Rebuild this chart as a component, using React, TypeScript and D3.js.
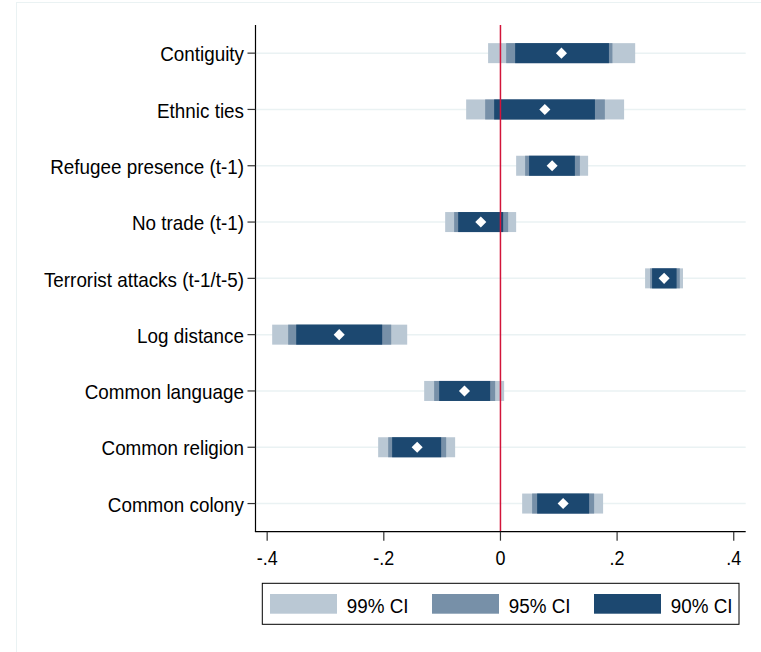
import React from "react";
import * as d3 from "d3";

const categories = [
  "Contiguity",
  "Ethnic ties",
  "Refugee presence (t-1)",
  "No trade (t-1)",
  "Terrorist attacks (t-1/t-5)",
  "Log distance",
  "Common language",
  "Common religion",
  "Common colony",
];
const estimates = [0.1046, 0.0761, 0.0886, -0.0337, 0.2806, -0.2765, -0.0617, -0.1428, 0.1075];
const ci99Low = [-0.0212, -0.0588, 0.0269, -0.0948, 0.248, -0.3914, -0.1308, -0.2097, 0.0372];
const ci99High = [0.231, 0.212, 0.1503, 0.0269, 0.313, -0.1599, 0.0063, -0.0777, 0.176];
const ci95Low = [0.0098, -0.0262, 0.0423, -0.0794, 0.2566, -0.364, -0.1137, -0.1925, 0.0543];
const ci95High = [0.192, 0.179, 0.1362, 0.0132, 0.3075, -0.1873, -0.0091, -0.0931, 0.1606];
const ci90Low = [0.0252, -0.0108, 0.0491, -0.0725, 0.26, -0.3502, -0.1051, -0.1857, 0.0629];
const ci90High = [0.186, 0.162, 0.1276, 0.0046, 0.302, -0.2028, -0.0177, -0.1017, 0.152];
const xTicks = [-0.4, -0.2, 0, 0.2, 0.4];
const xTickLabels = ["-.4", "-.2", "0", ".2", ".4"];
const legendLabels = ["99% CI", "95% CI", "90% CI"];

const COLORS = ["#BAC8D4", "#7790A8", "#1C4870"];
const FONT = "'Liberation Sans', Arial, sans-serif";
const SX = 0.92;

export default function App() {
  const W = 761;
  const H = 652;
  const left = 255.5;
  const right = 745.7;
  const top = 25;
  const bottom = 531.7;

  const x = d3.scaleLinear().domain([-0.42, 0.4205]).range([left, right]);
  const y = d3.scalePoint<string>().domain(categories).range([top, bottom]).padding(0.5);
  const barH = 20;

  const layers = [
    { lo: ci99Low, hi: ci99High, color: COLORS[0] },
    { lo: ci95Low, hi: ci95High, color: COLORS[1] },
    { lo: ci90Low, hi: ci90High, color: COLORS[2] },
  ];

  const diamond = d3.symbol().type(d3.symbolDiamond2).size(78)();

  const legendX = 262.3;
  const legendY = 583.3;
  const legendW = 476.7;
  const legendH = 41;
  const legendSlot = d3.scaleLinear().domain([0, 1]).range([270, 432]);

  return (
    <svg
      width={W}
      height={H}
      style={{ position: "absolute", left: 0, top: 0, background: "#fff" }}
      fontFamily={FONT}
    >
      <rect x={0} y={0} width={W} height={H} fill="#fff" />
      <rect x={16.5} y={2.5} width={W + 10} height={H + 10} fill="none" stroke="#EAF2F3" strokeWidth={1} />

      {/* gridlines */}
      {categories.map((c) => (
        <line key={"g" + c} x1={left} x2={right} y1={y(c)} y2={y(c)} stroke="#EAF2F3" strokeWidth={1.5} />
      ))}

      {/* bars */}
      {layers.map((L, li) =>
        categories.map((c, i) => (
          <rect
            key={`b${li}-${i}`}
            x={x(L.lo[i])}
            width={x(L.hi[i]) - x(L.lo[i])}
            y={(y(c) as number) - barH / 2}
            height={barH}
            fill={L.color}
          />
        ))
      )}

      {/* zero line */}
      <line x1={x(0)} x2={x(0)} y1={top} y2={bottom} stroke="#D2143A" strokeWidth={1.5} />

      {/* point estimates */}
      {categories.map((c, i) => (
        <path key={"p" + c} d={diamond as string} transform={`translate(${x(estimates[i])},${y(c)})`} fill="#fff" />
      ))}

      {/* y axis */}
      <line x1={left} x2={left} y1={top} y2={bottom} stroke="#000" strokeWidth={1.2} />
      {categories.map((c) => (
        <g key={"yt" + c}>
          <line x1={left - 8} x2={left} y1={y(c)} y2={y(c)} stroke="#333" strokeWidth={1.2} />
          <text
            transform={`translate(${left - 11.5},${(y(c) as number) + 8.2}) scale(${SX},1)`}
            textAnchor="end"
            fontSize={20.5}
            fill="#000"
          >
            {c}
          </text>
        </g>
      ))}

      {/* x axis */}
      <line x1={left - 0.6} x2={right} y1={bottom} y2={bottom} stroke="#000" strokeWidth={1.2} />
      {xTicks.map((t, i) => (
        <g key={"xt" + t}>
          <line x1={x(t)} x2={x(t)} y1={bottom} y2={bottom + 9} stroke="#333" strokeWidth={1.2} />
          <text
            transform={`translate(${x(t)},565) scale(${SX},1)`}
            textAnchor="middle"
            fontSize={19.5}
            fill="#000"
          >
            {xTickLabels[i]}
          </text>
        </g>
      ))}

      {/* legend */}
      <rect x={legendX} y={legendY} width={legendW} height={legendH} fill="#fff" stroke="#000" strokeWidth={1} />
      {legendLabels.map((lab, i) => (
        <g key={"lg" + lab}>
          <rect x={legendSlot(i)} y={594} width={67} height={19.7} fill={COLORS[i]} />
          <text
            transform={`translate(${legendSlot(i) + 76.7},612.5) scale(${SX},1)`}
            fontSize={20.5}
            fill="#000"
          >
            {lab}
          </text>
        </g>
      ))}
    </svg>
  );
}
